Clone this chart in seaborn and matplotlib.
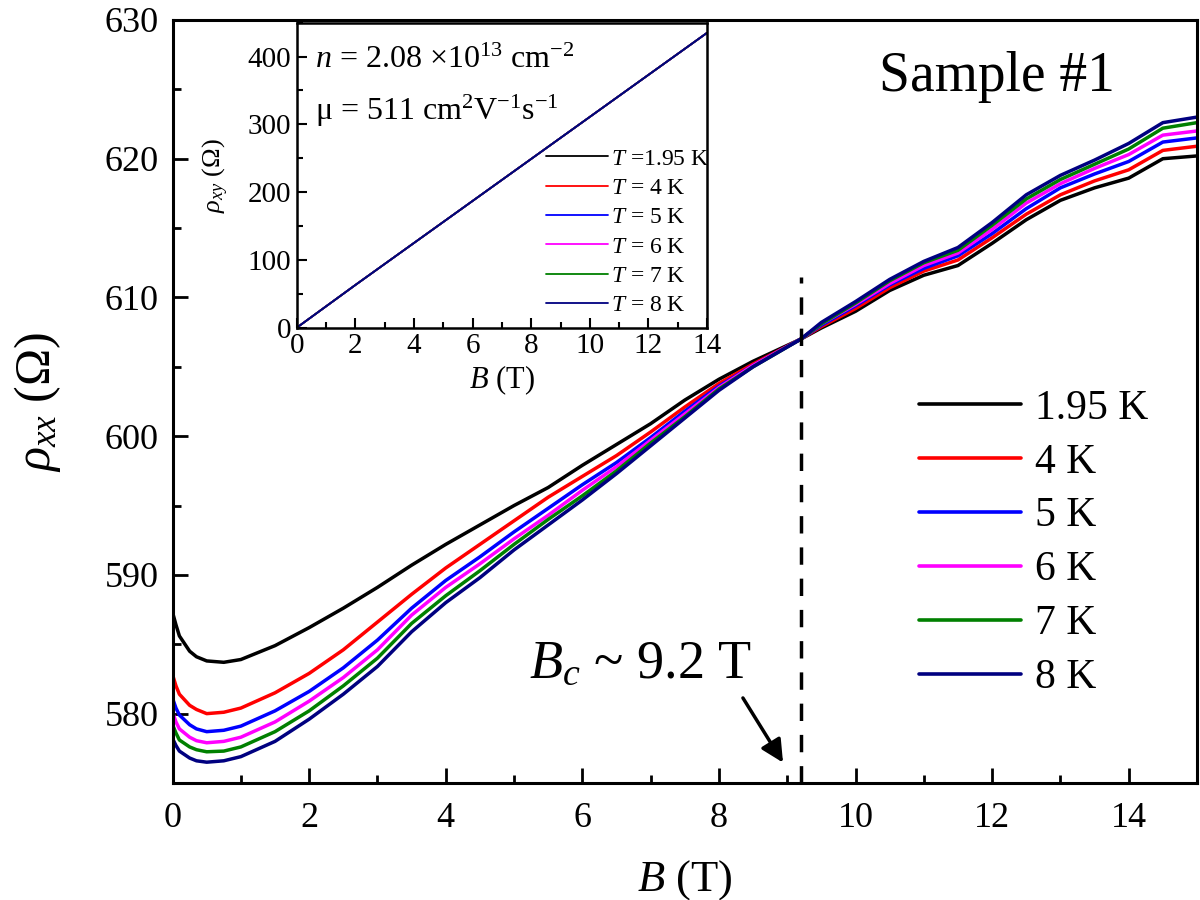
import matplotlib
matplotlib.use("Agg")
import matplotlib.pyplot as plt
import numpy as np
import pandas as pd
import seaborn as sns
from matplotlib.lines import Line2D
from matplotlib.ticker import MultipleLocator

# ---------------- data ----------------
B = [0, 0.05, 0.1, 0.25, 0.35, 0.5, 0.75, 1.0, 1.5, 2.0, 2.5, 3.0, 3.5, 4.0, 4.5,
     5.0, 5.5, 6.0, 6.5, 7.0, 7.5, 8.0, 8.5, 9.2, 9.5, 10.0, 10.5, 11.0, 11.5,
     12.0, 12.5, 13.0, 13.5, 14.0, 14.5, 15.0]

rho_195 = [587.3, 586.4, 585.6, 584.5, 584.1, 583.8, 583.7, 583.9, 584.9, 586.2,
           587.6, 589.1, 590.7, 592.2, 593.6, 595.0, 596.3, 597.9, 599.4, 600.9,
           602.6, 604.1, 605.4, 607.0, 607.8, 609.0, 610.5, 611.6, 612.3, 613.9,
           615.6, 617.0, 617.9, 618.6, 620.0, 620.2]
rho_4 = [582.8, 582.0, 581.4, 580.6, 580.3, 580.0, 580.1, 580.4, 581.5, 582.9,
         584.6, 586.6, 588.6, 590.5, 592.2, 593.9, 595.6, 597.1, 598.6, 600.3,
         602.1, 603.8, 605.2, 607.0, 607.9, 609.2, 610.7, 611.9, 612.7, 614.3,
         616.0, 617.4, 618.4, 619.2, 620.6, 620.9]
rho_5 = [581.1, 580.4, 579.9, 579.2, 578.9, 578.7, 578.8, 579.1, 580.2, 581.6,
         583.3, 585.3, 587.6, 589.6, 591.3, 593.1, 594.8, 596.5, 598.1, 599.9,
         601.8, 603.6, 605.1, 607.0, 608.0, 609.4, 610.9, 612.1, 613.0, 614.6,
         616.4, 617.9, 618.9, 619.8, 621.2, 621.5]
rho_6 = [580.1, 579.4, 578.9, 578.3, 578.05, 577.9, 578.0, 578.3, 579.4, 580.9,
         582.6, 584.6, 587.1, 589.1, 590.8, 592.6, 594.3, 596.1, 597.8, 599.7,
         601.6, 603.5, 605.1, 607.0, 608.1, 609.5, 611.0, 612.3, 613.2, 614.9,
         616.8, 618.2, 619.3, 620.3, 621.7, 622.0]
rho_7 = [579.2, 578.6, 578.1, 577.6, 577.4, 577.25, 577.3, 577.6, 578.7, 580.2,
         582.0, 584.0, 586.5, 588.5, 590.3, 592.2, 594.0, 595.7, 597.5, 599.5,
         601.4, 603.4, 605.0, 607.0, 608.1, 609.6, 611.2, 612.5, 613.4, 615.2,
         617.1, 618.5, 619.6, 620.7, 622.2, 622.6]
rho_8 = [578.2, 577.7, 577.3, 576.8, 576.6, 576.5, 576.6, 576.9, 578.0, 579.6,
         581.4, 583.4, 585.9, 588.0, 589.8, 591.8, 593.6, 595.4, 597.3, 599.3,
         601.3, 603.3, 605.0, 607.0, 608.2, 609.7, 611.3, 612.6, 613.6, 615.4,
         617.4, 618.8, 619.9, 621.1, 622.6, 623.0]

temps = ["1.95 K", "4 K", "5 K", "6 K", "7 K", "8 K"]
inset_labels = ["$T$ =1.95 K", "$T$ = 4 K", "$T$ = 5 K", "$T$ = 6 K", "$T$ = 7 K", "$T$ = 8 K"]
colors = ["#000000", "#ff0000", "#0000ff", "#ff00ff", "#008000", "#000080"]

B_hall = [0, 2, 4, 6, 8, 10, 12, 14]
rho_xy = [0, 63, 125, 187, 249, 311, 373, 435]

Bc = 9.2

# ---------------- style ----------------
sns.set_style("ticks")
plt.rcParams["font.family"] = ["Liberation Serif", "DejaVu Serif"]
plt.rcParams["mathtext.fontset"] = "custom"
plt.rcParams["mathtext.rm"] = "Liberation Serif"
plt.rcParams["mathtext.it"] = "Liberation Serif:italic"
plt.rcParams["mathtext.bf"] = "Liberation Serif:bold"
for key in ["text.color", "axes.labelcolor", "xtick.color", "ytick.color", "axes.edgecolor"]:
    plt.rcParams[key] = "black"

fig = plt.figure(figsize=(12, 9), dpi=100)
ax = fig.add_axes([0.1438, 0.13, 0.8537, 0.8478])

series = [rho_195, rho_4, rho_5, rho_6, rho_7, rho_8]
df = pd.concat([pd.DataFrame({"B": B, "rho": s, "T": t}) for s, t in zip(series, temps)],
               ignore_index=True)
sns.lineplot(data=df, x="B", y="rho", hue="T", hue_order=temps, palette=colors,
             estimator=None, sort=False, linewidth=2.5, legend=False, ax=ax)

ax.set_xlim(0, 15)
ax.set_ylim(575, 630)
ax.xaxis.set_major_locator(MultipleLocator(2))
ax.xaxis.set_minor_locator(MultipleLocator(1))
ax.yaxis.set_major_locator(MultipleLocator(10))
ax.yaxis.set_minor_locator(MultipleLocator(5))
ax.tick_params(which="both", direction="in", width=2, labelsize=26)
ax.tick_params(axis="x", pad=14)
ax.tick_params(axis="y", pad=10)
ax.tick_params(which="major", length=11)
ax.tick_params(which="minor", length=6)
for sp in ax.spines.values():
    sp.set_linewidth(2.2)
    sp.set_visible(True)
ax.set_xlabel("$B$ (T)", fontsize=32, labelpad=16)
ax.set_ylabel(r"$\rho_{xx}$ ($\Omega$)", fontsize=36, labelpad=30)

# dashed line at Bc
ax.vlines(Bc, 575, 611.5, colors="k", linestyles=(0, (5, 4)), linewidth=2.5)
ax.annotate("", xy=(8.96, 576.3), xytext=(8.33, 581.3),
            arrowprops=dict(arrowstyle="-|>", lw=2.5, color="k", mutation_scale=34))
ax.text(5.22, 582.6, r"$B_{c}$ ~ 9.2 T", fontsize=39, va="baseline", ha="left")
ax.text(0.69, 0.925, "Sample #1", fontsize=40, transform=ax.transAxes,
        va="center", ha="left")

handles = [Line2D([0], [0], color=c, lw=2.6) for c in colors]
ax.legend(handles, temps, loc="upper left", bbox_to_anchor=(0.712, 0.538),
          frameon=False, fontsize=30, handlelength=2.45, handletextpad=0.35,
          labelspacing=0.37, borderaxespad=0)

# ---------------- inset ----------------
axi = fig.add_axes([0.2473, 0.6359, 0.3419, 0.3389])
for lab, c in zip(inset_labels, colors):
    sns.lineplot(x=B_hall, y=rho_xy, color=c, linewidth=1.3, ax=axi,
                 estimator=None, sort=False, label=lab)
axi.set_xlim(0, 14)
axi.set_ylim(0, 450)
axi.xaxis.set_major_locator(MultipleLocator(2))
axi.xaxis.set_minor_locator(MultipleLocator(1))
axi.yaxis.set_major_locator(MultipleLocator(100))
axi.yaxis.set_minor_locator(MultipleLocator(50))
axi.tick_params(which="both", direction="in", width=1.5, labelsize=21, pad=4)
axi.tick_params(which="major", length=7)
axi.tick_params(which="minor", length=4)
for sp in axi.spines.values():
    sp.set_linewidth(1.8)
    sp.set_visible(True)
axi.set_xlabel("$B$ (T)", fontsize=22, labelpad=3)
axi.set_ylabel(r"$\rho_{xy}$ ($\Omega$)", fontsize=19, labelpad=12)
axi.legend(loc="upper left", bbox_to_anchor=(0.585, 0.62), frameon=False,
           fontsize=17, handlelength=2.6, handletextpad=0.15, labelspacing=0.33,
           borderaxespad=0)
axi.text(0.045, 0.875, r"$n$ = 2.08 $\times$10$^{13}$ cm$^{-2}$", fontsize=23,
         transform=axi.transAxes, va="center")
axi.text(0.045, 0.71, r"μ = 511 cm$^{2}$V$^{-1}$s$^{-1}$", fontsize=23,
         transform=axi.transAxes, va="center")

fig.savefig("out.png", dpi=100)
